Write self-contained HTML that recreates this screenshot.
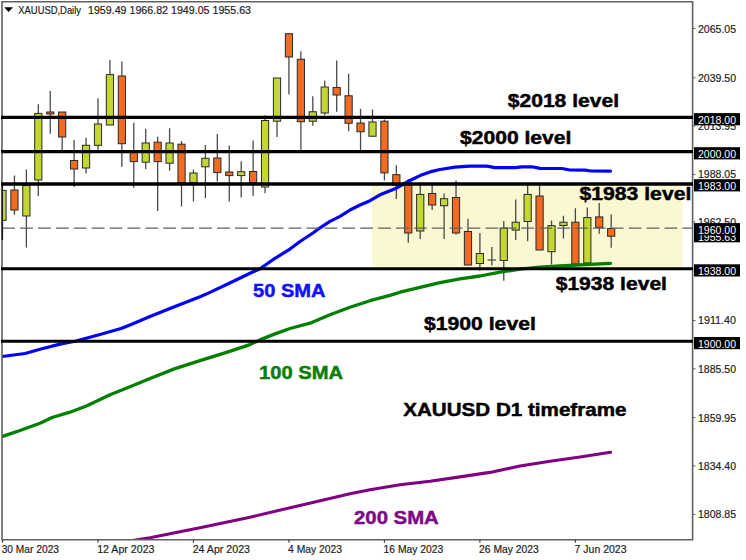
<!DOCTYPE html>
<html><head><meta charset="utf-8"><style>html,body{margin:0;padding:0;background:#fff;width:746px;height:560px;overflow:hidden}svg{display:block}</style></head>
<body><svg width="746" height="560" viewBox="0 0 746 560">
<rect x="0" y="0" width="746" height="560" fill="#ffffff"/>
<defs><clipPath id="cp"><rect x="2" y="2" width="690.5" height="537.5"/></clipPath></defs>
<g clip-path="url(#cp)">
<rect x="372" y="184" width="310.6" height="84" fill="#f9f8d2"/>
<line x1="2.50" y1="184" x2="2.50" y2="240" stroke="#4a4a4a" stroke-width="1.3"/>
<rect x="-1.10" y="190.4" width="7.2" height="30.00" fill="#c4d632" stroke="#2a2a2a" stroke-width="1"/>
<line x1="14.44" y1="175.5" x2="14.44" y2="214.8" stroke="#4a4a4a" stroke-width="1.3"/>
<rect x="10.84" y="190" width="7.2" height="20.00" fill="#f26b21" stroke="#2a2a2a" stroke-width="1"/>
<line x1="26.37" y1="169.4" x2="26.37" y2="247.6" stroke="#4a4a4a" stroke-width="1.3"/>
<rect x="22.77" y="185.5" width="7.2" height="30.50" fill="#c4d632" stroke="#2a2a2a" stroke-width="1"/>
<line x1="38.30" y1="104.3" x2="38.30" y2="196" stroke="#4a4a4a" stroke-width="1.3"/>
<rect x="34.70" y="113.4" width="7.2" height="66.60" fill="#c4d632" stroke="#2a2a2a" stroke-width="1"/>
<line x1="50.24" y1="91" x2="50.24" y2="133.8" stroke="#4a4a4a" stroke-width="1.3"/>
<rect x="46.64" y="112" width="7.2" height="2.00" fill="#f26b21" stroke="#2a2a2a" stroke-width="1"/>
<line x1="62.18" y1="112" x2="62.18" y2="150" stroke="#4a4a4a" stroke-width="1.3"/>
<rect x="58.58" y="112" width="7.2" height="25.00" fill="#f26b21" stroke="#2a2a2a" stroke-width="1"/>
<line x1="74.11" y1="140" x2="74.11" y2="187" stroke="#4a4a4a" stroke-width="1.3"/>
<rect x="70.51" y="160.5" width="7.2" height="8.50" fill="#f26b21" stroke="#2a2a2a" stroke-width="1"/>
<line x1="86.05" y1="137.7" x2="86.05" y2="173.5" stroke="#4a4a4a" stroke-width="1.3"/>
<rect x="82.45" y="145.3" width="7.2" height="22.70" fill="#c4d632" stroke="#2a2a2a" stroke-width="1"/>
<line x1="97.98" y1="98.2" x2="97.98" y2="150" stroke="#4a4a4a" stroke-width="1.3"/>
<rect x="94.38" y="124" width="7.2" height="21.30" fill="#c4d632" stroke="#2a2a2a" stroke-width="1"/>
<line x1="109.92" y1="60" x2="109.92" y2="125" stroke="#4a4a4a" stroke-width="1.3"/>
<rect x="106.32" y="74.6" width="7.2" height="50.40" fill="#c4d632" stroke="#2a2a2a" stroke-width="1"/>
<line x1="121.85" y1="61.5" x2="121.85" y2="167" stroke="#4a4a4a" stroke-width="1.3"/>
<rect x="118.25" y="76" width="7.2" height="67.70" fill="#f26b21" stroke="#2a2a2a" stroke-width="1"/>
<line x1="133.78" y1="122.8" x2="133.78" y2="187.8" stroke="#4a4a4a" stroke-width="1.3"/>
<rect x="130.19" y="152.4" width="7.2" height="9.20" fill="#f26b21" stroke="#2a2a2a" stroke-width="1"/>
<line x1="145.72" y1="128.8" x2="145.72" y2="169" stroke="#4a4a4a" stroke-width="1.3"/>
<rect x="142.12" y="143" width="7.2" height="19.20" fill="#c4d632" stroke="#2a2a2a" stroke-width="1"/>
<line x1="157.66" y1="136.7" x2="157.66" y2="211" stroke="#4a4a4a" stroke-width="1.3"/>
<rect x="154.06" y="142.2" width="7.2" height="19.40" fill="#f26b21" stroke="#2a2a2a" stroke-width="1"/>
<line x1="169.59" y1="128.2" x2="169.59" y2="170.7" stroke="#4a4a4a" stroke-width="1.3"/>
<rect x="165.99" y="143" width="7.2" height="20.20" fill="#c4d632" stroke="#2a2a2a" stroke-width="1"/>
<line x1="181.53" y1="141" x2="181.53" y2="206.4" stroke="#4a4a4a" stroke-width="1.3"/>
<rect x="177.93" y="144.2" width="7.2" height="38.30" fill="#f26b21" stroke="#2a2a2a" stroke-width="1"/>
<line x1="193.46" y1="169.5" x2="193.46" y2="201.5" stroke="#4a4a4a" stroke-width="1.3"/>
<rect x="189.86" y="173" width="7.2" height="9.50" fill="#c4d632" stroke="#2a2a2a" stroke-width="1"/>
<line x1="205.40" y1="145" x2="205.40" y2="198" stroke="#4a4a4a" stroke-width="1.3"/>
<rect x="201.80" y="158.3" width="7.2" height="8.50" fill="#c4d632" stroke="#2a2a2a" stroke-width="1"/>
<line x1="217.33" y1="134.1" x2="217.33" y2="181.5" stroke="#4a4a4a" stroke-width="1.3"/>
<rect x="213.73" y="158" width="7.2" height="14.60" fill="#f26b21" stroke="#2a2a2a" stroke-width="1"/>
<line x1="229.27" y1="145.5" x2="229.27" y2="201.5" stroke="#4a4a4a" stroke-width="1.3"/>
<rect x="225.67" y="172" width="7.2" height="3.60" fill="#f26b21" stroke="#2a2a2a" stroke-width="1"/>
<line x1="241.20" y1="161.3" x2="241.20" y2="197.6" stroke="#4a4a4a" stroke-width="1.3"/>
<rect x="237.60" y="171.7" width="7.2" height="3.90" fill="#c4d632" stroke="#2a2a2a" stroke-width="1"/>
<line x1="253.14" y1="140.5" x2="253.14" y2="196" stroke="#4a4a4a" stroke-width="1.3"/>
<rect x="249.54" y="171.5" width="7.2" height="11.00" fill="#f26b21" stroke="#2a2a2a" stroke-width="1"/>
<line x1="265.07" y1="115.2" x2="265.07" y2="193.2" stroke="#4a4a4a" stroke-width="1.3"/>
<rect x="261.47" y="120.5" width="7.2" height="66.50" fill="#c4d632" stroke="#2a2a2a" stroke-width="1"/>
<line x1="277.00" y1="78" x2="277.00" y2="137" stroke="#4a4a4a" stroke-width="1.3"/>
<rect x="273.40" y="78" width="7.2" height="43.20" fill="#c4d632" stroke="#2a2a2a" stroke-width="1"/>
<line x1="288.94" y1="33" x2="288.94" y2="94.5" stroke="#4a4a4a" stroke-width="1.3"/>
<rect x="285.34" y="33.75" width="7.2" height="23.25" fill="#f26b21" stroke="#2a2a2a" stroke-width="1"/>
<line x1="300.88" y1="51.25" x2="300.88" y2="153" stroke="#4a4a4a" stroke-width="1.3"/>
<rect x="297.27" y="59.25" width="7.2" height="62.50" fill="#f26b21" stroke="#2a2a2a" stroke-width="1"/>
<line x1="312.81" y1="96.25" x2="312.81" y2="125.75" stroke="#4a4a4a" stroke-width="1.3"/>
<rect x="309.21" y="111.75" width="7.2" height="9.50" fill="#c4d632" stroke="#2a2a2a" stroke-width="1"/>
<line x1="324.75" y1="80.5" x2="324.75" y2="115" stroke="#4a4a4a" stroke-width="1.3"/>
<rect x="321.14" y="87" width="7.2" height="26.00" fill="#c4d632" stroke="#2a2a2a" stroke-width="1"/>
<line x1="336.68" y1="60.5" x2="336.68" y2="111.75" stroke="#4a4a4a" stroke-width="1.3"/>
<rect x="333.08" y="87.5" width="7.2" height="7.50" fill="#f26b21" stroke="#2a2a2a" stroke-width="1"/>
<line x1="348.62" y1="73.75" x2="348.62" y2="131.25" stroke="#4a4a4a" stroke-width="1.3"/>
<rect x="345.01" y="95.75" width="7.2" height="27.50" fill="#f26b21" stroke="#2a2a2a" stroke-width="1"/>
<line x1="360.55" y1="108.75" x2="360.55" y2="150.5" stroke="#4a4a4a" stroke-width="1.3"/>
<rect x="356.95" y="123" width="7.2" height="8.75" fill="#f26b21" stroke="#2a2a2a" stroke-width="1"/>
<line x1="372.49" y1="109.5" x2="372.49" y2="136.25" stroke="#4a4a4a" stroke-width="1.3"/>
<rect x="368.88" y="122" width="7.2" height="14.25" fill="#c4d632" stroke="#2a2a2a" stroke-width="1"/>
<line x1="384.42" y1="119.5" x2="384.42" y2="180.5" stroke="#4a4a4a" stroke-width="1.3"/>
<rect x="380.82" y="121.2" width="7.2" height="51.70" fill="#f26b21" stroke="#2a2a2a" stroke-width="1"/>
<line x1="396.36" y1="165.3" x2="396.36" y2="199" stroke="#4a4a4a" stroke-width="1.3"/>
<rect x="392.75" y="174.7" width="7.2" height="10.60" fill="#f26b21" stroke="#2a2a2a" stroke-width="1"/>
<line x1="408.29" y1="179" x2="408.29" y2="242.7" stroke="#4a4a4a" stroke-width="1.3"/>
<rect x="404.69" y="184.4" width="7.2" height="48.60" fill="#f26b21" stroke="#2a2a2a" stroke-width="1"/>
<line x1="420.23" y1="184.4" x2="420.23" y2="239" stroke="#4a4a4a" stroke-width="1.3"/>
<rect x="416.62" y="194.4" width="7.2" height="36.60" fill="#c4d632" stroke="#2a2a2a" stroke-width="1"/>
<line x1="432.16" y1="184.4" x2="432.16" y2="210" stroke="#4a4a4a" stroke-width="1.3"/>
<rect x="428.56" y="193.5" width="7.2" height="11.50" fill="#f26b21" stroke="#2a2a2a" stroke-width="1"/>
<line x1="444.10" y1="193.5" x2="444.10" y2="239" stroke="#4a4a4a" stroke-width="1.3"/>
<rect x="440.50" y="198.7" width="7.2" height="7.00" fill="#c4d632" stroke="#2a2a2a" stroke-width="1"/>
<line x1="456.03" y1="180.5" x2="456.03" y2="234.6" stroke="#4a4a4a" stroke-width="1.3"/>
<rect x="452.43" y="197.5" width="7.2" height="35.50" fill="#f26b21" stroke="#2a2a2a" stroke-width="1"/>
<line x1="467.97" y1="218.8" x2="467.97" y2="265" stroke="#4a4a4a" stroke-width="1.3"/>
<rect x="464.37" y="231.5" width="7.2" height="33.50" fill="#f26b21" stroke="#2a2a2a" stroke-width="1"/>
<line x1="479.90" y1="233" x2="479.90" y2="271" stroke="#4a4a4a" stroke-width="1.3"/>
<rect x="476.30" y="253.5" width="7.2" height="10.00" fill="#c4d632" stroke="#2a2a2a" stroke-width="1"/>
<line x1="491.84" y1="247" x2="491.84" y2="265.6" stroke="#4a4a4a" stroke-width="1.3"/>
<line x1="487.64" y1="260" x2="496.04" y2="260" stroke="#4a4a4a" stroke-width="1.2"/>
<line x1="503.77" y1="221" x2="503.77" y2="280.7" stroke="#4a4a4a" stroke-width="1.3"/>
<rect x="500.17" y="228" width="7.2" height="32.50" fill="#c4d632" stroke="#2a2a2a" stroke-width="1"/>
<line x1="515.71" y1="199.5" x2="515.71" y2="240" stroke="#4a4a4a" stroke-width="1.3"/>
<rect x="512.11" y="222.2" width="7.2" height="7.90" fill="#c4d632" stroke="#2a2a2a" stroke-width="1"/>
<line x1="527.64" y1="185.5" x2="527.64" y2="241.3" stroke="#4a4a4a" stroke-width="1.3"/>
<rect x="524.04" y="194.4" width="7.2" height="27.10" fill="#c4d632" stroke="#2a2a2a" stroke-width="1"/>
<line x1="539.58" y1="185.5" x2="539.58" y2="250" stroke="#4a4a4a" stroke-width="1.3"/>
<rect x="535.98" y="196" width="7.2" height="54.00" fill="#f26b21" stroke="#2a2a2a" stroke-width="1"/>
<line x1="551.51" y1="220.4" x2="551.51" y2="264.5" stroke="#4a4a4a" stroke-width="1.3"/>
<rect x="547.91" y="225.7" width="7.2" height="26.00" fill="#c4d632" stroke="#2a2a2a" stroke-width="1"/>
<line x1="563.45" y1="215.7" x2="563.45" y2="238.5" stroke="#4a4a4a" stroke-width="1.3"/>
<rect x="559.85" y="222.2" width="7.2" height="3.30" fill="#c4d632" stroke="#2a2a2a" stroke-width="1"/>
<line x1="575.38" y1="208.3" x2="575.38" y2="264" stroke="#4a4a4a" stroke-width="1.3"/>
<rect x="571.78" y="222.2" width="7.2" height="41.80" fill="#f26b21" stroke="#2a2a2a" stroke-width="1"/>
<line x1="587.32" y1="207.6" x2="587.32" y2="263" stroke="#4a4a4a" stroke-width="1.3"/>
<rect x="583.72" y="217.6" width="7.2" height="45.30" fill="#c4d632" stroke="#2a2a2a" stroke-width="1"/>
<line x1="599.25" y1="203" x2="599.25" y2="233.8" stroke="#4a4a4a" stroke-width="1.3"/>
<rect x="595.65" y="216.9" width="7.2" height="10.40" fill="#f26b21" stroke="#2a2a2a" stroke-width="1"/>
<line x1="611.19" y1="214.6" x2="611.19" y2="247.8" stroke="#4a4a4a" stroke-width="1.3"/>
<rect x="607.59" y="228.5" width="7.2" height="7.70" fill="#f26b21" stroke="#2a2a2a" stroke-width="1"/>
<polyline points="120,542.5 150,537.8 175,532.8 200,527.7 250,517.2 300,505.4 350,493.7 370,489.7 400,484.8 430,481.3 460,476.9 490,472.4 520,466 550,461.2 580,457 610.5,452.3" fill="none" stroke="#800080" stroke-width="3.1" stroke-linejoin="round" stroke-linecap="round"/>
<polyline points="2,436.6 20,430.5 40,423.2 52,417.5 70,412.2 87,405.8 110,394.8 130,386.8 150,378.5 175,368.6 200,360.6 225,352.8 250,344.6 260,339.9 275,333.9 290,328.5 310,323.2 330,314.7 350,307.2 370,300.7 390,295.4 400,292.2 420,287.3 440,282.6 460,278.9 480,276 500,272.2 520,269.2 540,267.1 560,266 580,264.8 600,263.8 610.5,263.3" fill="none" stroke="#007f00" stroke-width="3.3" stroke-linejoin="round" stroke-linecap="round"/>
<polyline points="2,356.5 25,353.5 40,349.2 60,344.1 75,341.2 100,334.5 121,328.5 130,324.9 150,316.5 175,306.5 200,296.8 210,292.4 235,280.5 250,273.2 260,268.7 275,258.3 290,249.1 300,241.5 313,233 320,227.8 330,221.4 340,216.4 350,210 360,205 370,200.7 380,194.8 395,188.8 400,186 410,180.5 420,175.6 430,171.9 440,169.5 455,167.2 470,166.1 487,166.2 495,167.6 515,167.6 522,166.8 532,166.8 540,168.4 562,168.5 570,170 585,170.1 591,171 610.5,171.1" fill="none" stroke="#0000ff" stroke-width="3.2" stroke-linejoin="round" stroke-linecap="round"/>
<line x1="2.2" y1="228" x2="693" y2="228" stroke="#606060" stroke-width="1.25" stroke-dasharray="12.8,5.1"/>
</g>
<path d="M2,539.8 L2,1.8 L692.6,1.8 L692.6,539.8 Z" fill="none" stroke="#606060" stroke-width="1.6"/>
<line x1="2.3" y1="185" x2="2.3" y2="240" stroke="#1a1a1a" stroke-width="1.4"/>
<line x1="1" y1="117.4" x2="693" y2="117.4" stroke="#000" stroke-width="3.2"/>
<line x1="1" y1="151.6" x2="693" y2="151.6" stroke="#000" stroke-width="3.2"/>
<line x1="1" y1="184" x2="693" y2="184" stroke="#000" stroke-width="3.6"/>
<line x1="1" y1="268.7" x2="693" y2="268.7" stroke="#000" stroke-width="3"/>
<line x1="1" y1="341.25" x2="693" y2="341.25" stroke="#000" stroke-width="3"/>
<line x1="692.6" y1="28.6" x2="695.5" y2="28.6" stroke="#606060" stroke-width="1"/>
<text x="698" y="32.5" textLength="38" lengthAdjust="spacingAndGlyphs" style="font-family:'Liberation Sans',sans-serif;font-size:11px" fill="#1e1e1e" stroke="#1e1e1e" stroke-width="0.2">2065.05</text>
<line x1="692.6" y1="77.8" x2="695.5" y2="77.8" stroke="#606060" stroke-width="1"/>
<text x="698" y="81.7" textLength="38" lengthAdjust="spacingAndGlyphs" style="font-family:'Liberation Sans',sans-serif;font-size:11px" fill="#1e1e1e" stroke="#1e1e1e" stroke-width="0.2">2039.50</text>
<line x1="692.6" y1="126" x2="695.5" y2="126" stroke="#606060" stroke-width="1"/>
<text x="698" y="129.9" textLength="38" lengthAdjust="spacingAndGlyphs" style="font-family:'Liberation Sans',sans-serif;font-size:11px" fill="#1e1e1e" stroke="#1e1e1e" stroke-width="0.2">2013.95</text>
<line x1="692.6" y1="174.5" x2="695.5" y2="174.5" stroke="#606060" stroke-width="1"/>
<text x="698" y="178.4" textLength="38" lengthAdjust="spacingAndGlyphs" style="font-family:'Liberation Sans',sans-serif;font-size:11px" fill="#1e1e1e" stroke="#1e1e1e" stroke-width="0.2">1988.05</text>
<line x1="692.6" y1="222" x2="695.5" y2="222" stroke="#606060" stroke-width="1"/>
<text x="698" y="225.9" textLength="38" lengthAdjust="spacingAndGlyphs" style="font-family:'Liberation Sans',sans-serif;font-size:11px" fill="#1e1e1e" stroke="#1e1e1e" stroke-width="0.2">1962.50</text>
<line x1="692.6" y1="320.5" x2="695.5" y2="320.5" stroke="#606060" stroke-width="1"/>
<text x="698" y="324.4" textLength="38" lengthAdjust="spacingAndGlyphs" style="font-family:'Liberation Sans',sans-serif;font-size:11px" fill="#1e1e1e" stroke="#1e1e1e" stroke-width="0.2">1911.40</text>
<line x1="692.6" y1="368.8" x2="695.5" y2="368.8" stroke="#606060" stroke-width="1"/>
<text x="698" y="372.7" textLength="38" lengthAdjust="spacingAndGlyphs" style="font-family:'Liberation Sans',sans-serif;font-size:11px" fill="#1e1e1e" stroke="#1e1e1e" stroke-width="0.2">1885.50</text>
<line x1="692.6" y1="417.6" x2="695.5" y2="417.6" stroke="#606060" stroke-width="1"/>
<text x="698" y="421.5" textLength="38" lengthAdjust="spacingAndGlyphs" style="font-family:'Liberation Sans',sans-serif;font-size:11px" fill="#1e1e1e" stroke="#1e1e1e" stroke-width="0.2">1859.95</text>
<line x1="692.6" y1="465.9" x2="695.5" y2="465.9" stroke="#606060" stroke-width="1"/>
<text x="698" y="469.8" textLength="38" lengthAdjust="spacingAndGlyphs" style="font-family:'Liberation Sans',sans-serif;font-size:11px" fill="#1e1e1e" stroke="#1e1e1e" stroke-width="0.2">1834.40</text>
<line x1="692.6" y1="514.4" x2="695.5" y2="514.4" stroke="#606060" stroke-width="1"/>
<text x="698" y="518.3" textLength="38" lengthAdjust="spacingAndGlyphs" style="font-family:'Liberation Sans',sans-serif;font-size:11px" fill="#1e1e1e" stroke="#1e1e1e" stroke-width="0.2">1808.85</text>
<rect x="694" y="113.1" width="46" height="12.2" fill="#000"/>
<text x="698" y="123.9" textLength="38" lengthAdjust="spacingAndGlyphs" style="font-family:'Liberation Sans',sans-serif;font-size:11px" fill="#fff">2018.00</text>
<rect x="694" y="147.2" width="46" height="12.2" fill="#000"/>
<text x="698" y="158.0" textLength="38" lengthAdjust="spacingAndGlyphs" style="font-family:'Liberation Sans',sans-serif;font-size:11px" fill="#fff">2000.00</text>
<rect x="694" y="179.2" width="46" height="12.2" fill="#000"/>
<text x="698" y="190.0" textLength="38" lengthAdjust="spacingAndGlyphs" style="font-family:'Liberation Sans',sans-serif;font-size:11px" fill="#fff">1983.00</text>
<rect x="694" y="230.1" width="46" height="12.2" fill="#000"/>
<text x="698" y="240.9" textLength="38" lengthAdjust="spacingAndGlyphs" style="font-family:'Liberation Sans',sans-serif;font-size:11px" fill="#fff">1955.63</text>
<rect x="694" y="223.1" width="46" height="12.2" fill="#000"/>
<text x="698" y="233.9" textLength="38" lengthAdjust="spacingAndGlyphs" style="font-family:'Liberation Sans',sans-serif;font-size:11px" fill="#fff">1960.00</text>
<rect x="694" y="264.3" width="46" height="12.2" fill="#000"/>
<text x="698" y="275.1" textLength="38" lengthAdjust="spacingAndGlyphs" style="font-family:'Liberation Sans',sans-serif;font-size:11px" fill="#fff">1938.00</text>
<rect x="694" y="337.0" width="46" height="12.2" fill="#000"/>
<text x="698" y="347.8" textLength="38" lengthAdjust="spacingAndGlyphs" style="font-family:'Liberation Sans',sans-serif;font-size:11px" fill="#fff">1900.00</text>
<line x1="2.50" y1="539.8" x2="2.50" y2="542.8" stroke="#444" stroke-width="1.2"/>
<text x="1.7" y="553.2" textLength="57.3" lengthAdjust="spacingAndGlyphs" style="font-family:'Liberation Sans',sans-serif;font-size:11px" fill="#1e1e1e" stroke="#1e1e1e" stroke-width="0.2">30 Mar 2023</text>
<line x1="97.98" y1="539.8" x2="97.98" y2="542.8" stroke="#444" stroke-width="1.2"/>
<text x="97.2" y="553.2" textLength="57.3" lengthAdjust="spacingAndGlyphs" style="font-family:'Liberation Sans',sans-serif;font-size:11px" fill="#1e1e1e" stroke="#1e1e1e" stroke-width="0.2">12 Apr 2023</text>
<line x1="193.46" y1="539.8" x2="193.46" y2="542.8" stroke="#444" stroke-width="1.2"/>
<text x="192.7" y="553.2" textLength="57.3" lengthAdjust="spacingAndGlyphs" style="font-family:'Liberation Sans',sans-serif;font-size:11px" fill="#1e1e1e" stroke="#1e1e1e" stroke-width="0.2">24 Apr 2023</text>
<line x1="288.94" y1="539.8" x2="288.94" y2="542.8" stroke="#444" stroke-width="1.2"/>
<text x="288.1" y="553.2" textLength="54" lengthAdjust="spacingAndGlyphs" style="font-family:'Liberation Sans',sans-serif;font-size:11px" fill="#1e1e1e" stroke="#1e1e1e" stroke-width="0.2">4 May 2023</text>
<line x1="384.42" y1="539.8" x2="384.42" y2="542.8" stroke="#444" stroke-width="1.2"/>
<text x="383.6" y="553.2" textLength="59.7" lengthAdjust="spacingAndGlyphs" style="font-family:'Liberation Sans',sans-serif;font-size:11px" fill="#1e1e1e" stroke="#1e1e1e" stroke-width="0.2">16 May 2023</text>
<line x1="479.90" y1="539.8" x2="479.90" y2="542.8" stroke="#444" stroke-width="1.2"/>
<text x="479.1" y="553.2" textLength="59.7" lengthAdjust="spacingAndGlyphs" style="font-family:'Liberation Sans',sans-serif;font-size:11px" fill="#1e1e1e" stroke="#1e1e1e" stroke-width="0.2">26 May 2023</text>
<line x1="575.38" y1="539.8" x2="575.38" y2="542.8" stroke="#444" stroke-width="1.2"/>
<text x="574.6" y="553.2" textLength="51.9" lengthAdjust="spacingAndGlyphs" style="font-family:'Liberation Sans',sans-serif;font-size:11px" fill="#1e1e1e" stroke="#1e1e1e" stroke-width="0.2">7 Jun 2023</text>
<path d="M4.2,7.3 L13,7.3 L8.6,12 Z" fill="#000"/>
<text x="18.3" y="14.3" textLength="62.7" lengthAdjust="spacingAndGlyphs" style="font-family:'Liberation Sans',sans-serif;font-size:11px" fill="#1e1e1e" stroke="#1e1e1e" stroke-width="0.2">XAUUSD,Daily</text>
<text x="88" y="14.3" textLength="163" lengthAdjust="spacingAndGlyphs" style="font-family:'Liberation Sans',sans-serif;font-size:11px;white-space:pre" fill="#1e1e1e" stroke="#1e1e1e" stroke-width="0.2">1959.49 1966.82 1949.05 1955.63</text>
<text x="507.8" y="106.5" textLength="111.19999999999999" lengthAdjust="spacingAndGlyphs" style="font-family:'Liberation Sans',sans-serif;font-size:17.5px;font-weight:bold" fill="#000" stroke="#000" stroke-width="0.45">$2018 level</text>
<text x="460" y="143.8" textLength="111.39999999999998" lengthAdjust="spacingAndGlyphs" style="font-family:'Liberation Sans',sans-serif;font-size:17.5px;font-weight:bold" fill="#000" stroke="#000" stroke-width="0.45">$2000 level</text>
<text x="579.5" y="200.3" textLength="111.79999999999995" lengthAdjust="spacingAndGlyphs" style="font-family:'Liberation Sans',sans-serif;font-size:17.5px;font-weight:bold" fill="#000" stroke="#000" stroke-width="0.45">$1983 level</text>
<text x="555.7" y="289.8" textLength="111.29999999999995" lengthAdjust="spacingAndGlyphs" style="font-family:'Liberation Sans',sans-serif;font-size:17.5px;font-weight:bold" fill="#000" stroke="#000" stroke-width="0.45">$1938 level</text>
<text x="424" y="329.5" textLength="111.79999999999995" lengthAdjust="spacingAndGlyphs" style="font-family:'Liberation Sans',sans-serif;font-size:17.5px;font-weight:bold" fill="#000" stroke="#000" stroke-width="0.45">$1900 level</text>
<text x="253" y="297.2" textLength="72.5" lengthAdjust="spacingAndGlyphs" style="font-family:'Liberation Sans',sans-serif;font-size:17.5px;font-weight:bold" fill="#1010ff" stroke="#1010ff" stroke-width="0.45">50 SMA</text>
<text x="259.1" y="378.5" textLength="84.09999999999997" lengthAdjust="spacingAndGlyphs" style="font-family:'Liberation Sans',sans-serif;font-size:17.5px;font-weight:bold" fill="#0a7d0a" stroke="#0a7d0a" stroke-width="0.45">100 SMA</text>
<text x="403.2" y="415.8" textLength="223.3" lengthAdjust="spacingAndGlyphs" style="font-family:'Liberation Sans',sans-serif;font-size:17.5px;font-weight:bold" fill="#000" stroke="#000" stroke-width="0.45">XAUUSD D1 timeframe</text>
<text x="354" y="523.7" textLength="84.80000000000001" lengthAdjust="spacingAndGlyphs" style="font-family:'Liberation Sans',sans-serif;font-size:17.5px;font-weight:bold" fill="#7d0a86" stroke="#7d0a86" stroke-width="0.45">200 SMA</text>
</svg></body></html>
